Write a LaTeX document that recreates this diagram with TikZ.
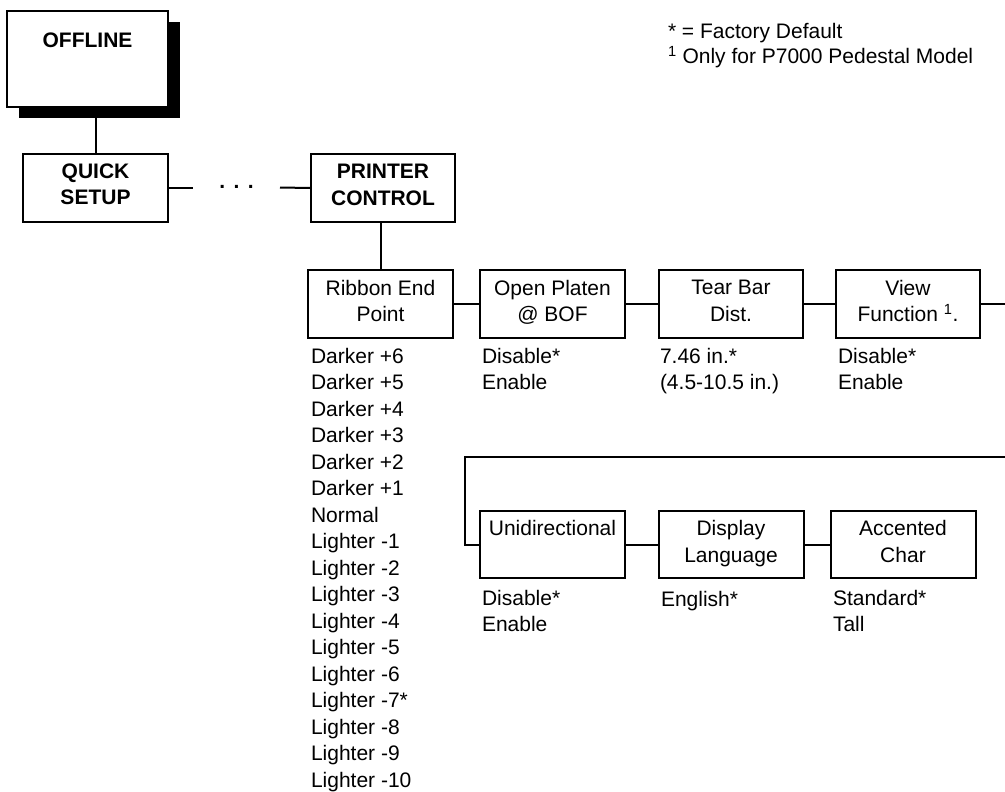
\documentclass[tikz,border=0pt]{standalone}
\usepackage{fontspec}
\setmainfont{Liberation Sans}
\usetikzlibrary{shadows}
\begin{document}
\begin{tikzpicture}[x=1pt,y=-1pt,line width=2pt,
  every node/.style={font=\fontsize{21}{26.5}\selectfont},
  box/.style={draw,fill=white,rectangle,inner sep=0pt,align=center,
    minimum width=145pt,minimum height=68pt,
    execute at begin node={\rule{0pt}{16pt}},
    execute at end node={\rule[-6.5pt]{0pt}{6.5pt}}},
  bbox/.style={box,font=\fontsize{21}{26.5}\selectfont\bfseries},
  lowbox/.style={box,minimum height=67pt,execute at end node={\rule[-35pt]{0pt}{35pt}}},
  topbox/.style={draw,fill=white,rectangle,inner sep=0pt,align=center,
    font=\fontsize{21}{26.5}\selectfont\bfseries,
    minimum width=161pt,minimum height=96pt,text height=37pt,text depth=59pt,
    drop shadow={shadow xshift=11.5pt,shadow yshift=-11pt,fill=black,opacity=1}},
  opts/.style={anchor=north west,inner sep=0pt,align=left,
    execute at begin node={\rule{0pt}{16pt}}},
  note/.style={anchor=base west,inner sep=0pt}]
\useasboundingbox (0,0) rectangle (1005,792);

% top level
\node[topbox] (off) at (87.5,59) {OFFLINE};
\node[bbox] (qs) at (95.5,187.5) {QUICK\\SETUP};
\node[bbox,minimum width=144pt] (pc) at (383,188) {PRINTER\\CONTROL};
\node[anchor=base,inner sep=0pt,font=\fontsize{21}{26.5}\selectfont\bfseries] (dots) at (236.5,188.5) {.\kern8.5pt.\kern8.5pt.};
\coordinate (dl1) at (193,187.5);
\coordinate (dr1) at (280,187.5);

% first row
\node[box] (rib) at (380.5,304) {Ribbon End\\Point};
\node[box] (op) at (552.5,304) {Open Platen\\@ BOF};
\node[box,minimum width=144pt] (tb) at (731,304) {Tear Bar\\Dist.};
\node[box,minimum width=144pt] (vf) at (908,304) {View\\Function \textsuperscript{1}.};
\coordinate (ve) at (1005,304);

% second row
\node[lowbox] (uni) at (552.5,544.5) {Unidirectional};
\node[box,minimum height=67pt] (dlg) at (731,544.5) {Display\\Language};
\node[box,minimum height=67pt] (ac) at (903,544.5) {Accented\\Char};
\coordinate (wr) at (1005,457);
\coordinate (wl) at (465,457);

% option lists
\node[opts] (ribl) at (310,347) {Darker +6\\Darker +5\\Darker +4\\Darker +3\\Darker +2\\Darker +1\\Normal\\Lighter -1\\Lighter -2\\Lighter -3\\Lighter -4\\Lighter -5\\Lighter -6\\Lighter -7*\\Lighter -8\\Lighter -9\\Lighter -10};
\node[opts] (opl) at (481,347) {Disable*\\Enable};
\node[opts] (tbl) at (659,347) {7.46 in.*\\(4.5-10.5 in.)};
\node[opts] (vfl) at (837,347) {Disable*\\Enable};
\node[opts] (unil) at (481,589) {Disable*\\Enable};
\node[opts] (dlgl) at (660,589) {English*};
\node[opts] (acl) at (832,589) {Standard*\\Tall};

% legend
\node[note] (n1) at (667,39) {* = Factory Default};
\node[note] (n2) at (667,64) {\textsuperscript{1} Only for P7000 Pedestal Model};

% connectors
\draw (qs.north) -- (qs.north |- off.south);
\draw (qs.east) -- (dl1);
\draw (dr1) -- (pc.west);
\draw (rib.north) -- (rib.north |- pc.south);
\draw (rib.east) -- (op.west);
\draw (op.east) -- (tb.west);
\draw (tb.east) -- (vf.west);
\draw (vf.east) -- (ve);
\draw (wr) -- (wl) -- (wl |- uni.west) -- (uni.west);
\draw (uni.east) -- (dlg.west);
\draw (dlg.east) -- (ac.west);
\end{tikzpicture}
\end{document}
